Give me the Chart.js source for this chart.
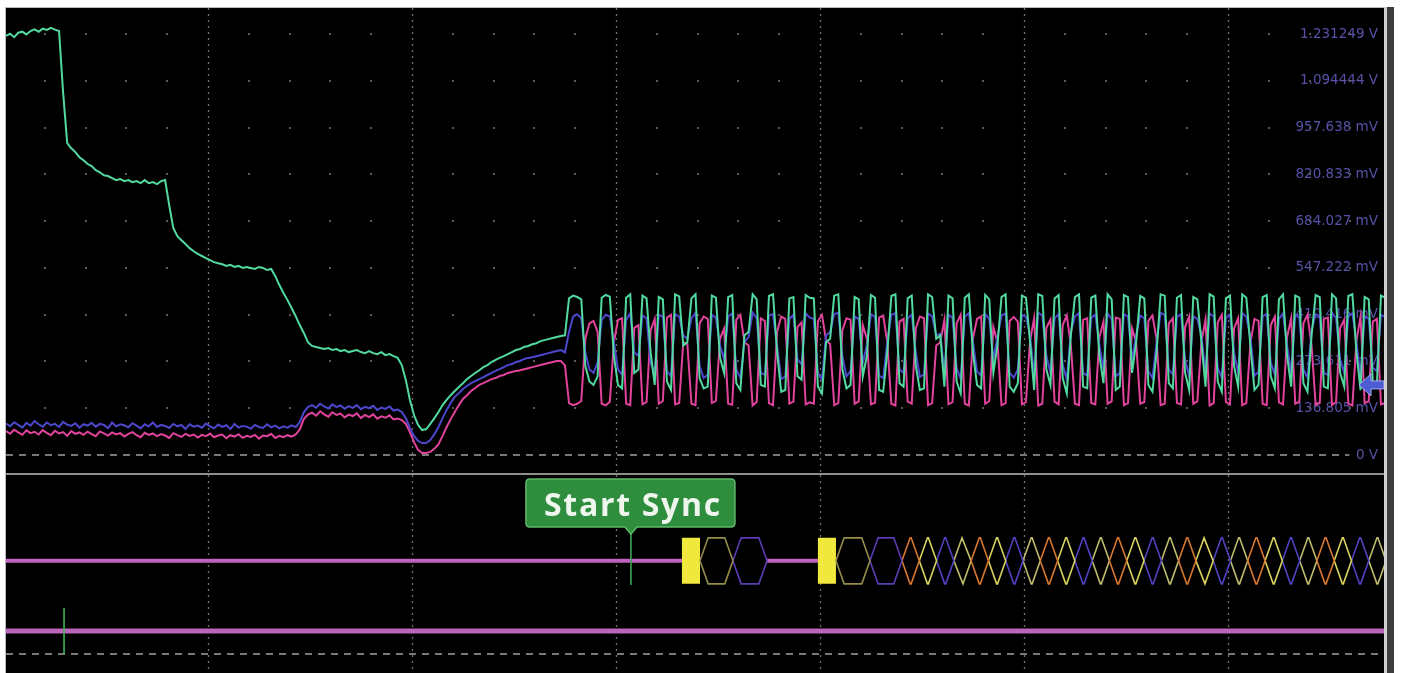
<!DOCTYPE html>
<html>
<head>
<meta charset="utf-8">
<script src="https://cdn.jsdelivr.net/npm/chart.js@4.4.1/dist/chart.umd.min.js"></script>
<style>
  html, body { margin: 0; padding: 0; background: #ffffff; }
  body { width: 1402px; height: 673px; position: relative; overflow: hidden; }
  .abs { position: absolute; }
  #frameTop { left: 5px; top: 7px; width: 1380px; height: 1px; background: #b9b9b9; }
  #frameLeft { left: 5px; top: 7px; width: 1px; height: 666px; background: #b9b9b9; }
  #screen { left: 6px; top: 8px; width: 1378px; height: 665px; background: #000; }
  #sep { left: 6px; top: 473px; width: 1378px; height: 2px; background: #8f8f8f; }
  #railLight { left: 1384px; top: 7px; width: 3px; height: 666px; background: #cfcfcf; }
  #railDark { left: 1387px; top: 7px; width: 7px; height: 666px; background: #3e3e3e; }
  #analogWrap { left: 6px; top: 8px; width: 1378px; height: 465px; }
  #busWrap { left: 6px; top: 475px; width: 1378px; height: 198px; }
  canvas { display: block; }
</style>
</head>
<body>
<div class="abs" id="screen"></div>
<div class="abs" id="frameTop"></div>
<div class="abs" id="frameLeft"></div>
<div class="abs" id="railLight"></div>
<div class="abs" id="railDark"></div>
<div class="abs" id="analogWrap"><canvas id="analog" width="1378" height="465"></canvas></div>
<div class="abs" id="sep"></div>
<div class="abs" id="busWrap"><canvas id="bus" width="1378" height="198"></canvas></div>

<script>
// ---- acquisition timing (microseconds) ----
const sampleStart = 0.2;
const sampleStep = 0.4;
const viewMin = 0.2;
const viewMax = 135.3;

// horizontal divisions (µs): major every 20, minor every 4
const majorTimes = [20, 40, 60, 80, 100, 120];
const minorTimes = [4, 8, 12, 16, 24, 28, 32, 36, 44, 48, 52, 56, 64, 68, 72, 76, 84, 88, 92, 96,
                    104, 108, 112, 116, 124, 128, 132];

// ---- analog channels (mV) ----
const ch1 = [
  1226, 1232, 1222, 1235, 1238, 1230, 1240, 1245, 1238, 1247,
  1243, 1249, 1244, 1240, 1060, 912, 897, 886, 871, 862,
  851, 845, 833, 827, 818, 816, 810, 804, 807, 801,
  804, 798, 801, 795, 804, 795, 798, 792, 801, 804,
  731, 664, 640, 628, 617, 605, 596, 588, 582, 576,
  570, 564, 561, 558, 553, 556, 550, 553, 547, 550,
  547, 544, 550, 547, 541, 544, 523, 497, 474, 453,
  430, 406, 380, 357, 330, 319, 316, 313, 310, 313,
  307, 310, 304, 307, 301, 304, 307, 301, 298, 304,
  298, 295, 301, 292, 295, 289, 284, 263, 219, 161,
  117, 88, 73, 76, 91, 108, 126, 146, 161, 175,
  187, 199, 210, 222, 231, 240, 248, 257, 263, 272,
  278, 284, 289, 295, 301, 307, 310, 316, 319, 324,
  327, 333, 336, 339, 342, 345, 348,
  350, 458, 466, 462, 455, 260, 215, 205, 230, 460,
  468, 463, 290, 205, 195, 460, 470, 240, 250, 466,
  458, 300, 205, 462, 455, 215, 190, 470, 464, 320,
  330, 458, 470, 225, 195, 200, 466, 460, 285, 240,
  462, 468, 210, 190, 350, 360, 470, 455, 205, 200,
  465, 470, 300, 185, 190, 458, 462, 230, 220, 468,
  460, 458, 200, 180, 330, 340, 466, 470, 250, 195,
  205, 462, 455, 230, 290, 468, 460, 190, 185, 300,
  465, 470, 210, 200, 458, 466, 260, 190, 195, 470,
  462, 340, 350, 200, 466, 458, 215, 180, 460, 470,
  300, 205, 195, 468, 455, 240, 320, 462, 470, 200,
  185, 210, 466, 460, 330, 190, 470, 465, 250, 205,
  458, 468, 225, 180, 350, 462, 470, 200, 195, 460,
  466, 290, 210, 470, 455, 190, 200, 468, 462, 240,
  330, 465, 458, 205, 185, 300, 470, 466, 210, 195,
  460, 468, 240, 190, 462, 455, 330, 200, 470, 463,
  215, 185, 458, 466, 260, 200, 470, 460, 320, 190,
  205, 462, 468, 230, 195, 455, 470, 290, 200, 466,
  460, 210, 185, 350, 468, 462, 200, 195, 470, 458,
  240, 200, 465, 470, 300, 190, 462, 455, 215, 205,
  466, 460
];

const ch2 = [
  92, 84, 96, 88, 80, 94, 86, 99, 90, 83,
  95, 87, 91, 82, 97, 89, 85, 93, 80, 90,
  86, 94, 83, 91, 88, 79, 95, 84, 90, 87,
  81, 93, 86, 78, 90, 84, 95, 82, 88, 85,
  79, 91, 84, 88, 76, 90, 83, 86, 80, 92,
  84, 78, 89, 82, 87, 76, 91, 80, 85, 83,
  77, 88, 82, 79, 90, 81, 86, 78, 84, 80,
  87, 82, 96, 125, 140, 146, 138, 150, 142, 136,
  148, 140, 145, 135, 143, 138, 146, 134, 141, 137,
  144, 132, 139, 135, 142, 130, 133, 126, 108, 79,
  56, 41, 35, 35, 44, 61, 82, 108, 132, 152,
  170, 181, 193, 202, 210, 216, 222, 228, 234, 240,
  246, 251, 257, 263, 266, 272, 275, 281, 284, 286,
  289, 292, 295, 298, 301, 304, 307,
  300, 360, 405, 412, 400, 300, 250, 240, 270, 395,
  410, 405, 330, 250, 235, 395, 415, 300, 290, 408,
  400, 270, 240, 410, 405, 245, 230, 412, 405, 350,
  340, 400, 415, 260, 225, 235, 410, 402, 320, 280,
  405, 414, 250, 225, 330, 345, 416, 400, 240, 235,
  408, 412, 320, 222, 230, 398, 410, 280, 265, 415,
  402, 398, 240, 220, 350, 360, 412, 416, 290, 230,
  245, 405, 398, 270, 320, 412, 404, 232, 225, 330,
  410, 415, 250, 240, 400, 410, 300, 228, 236, 414,
  405, 350, 355, 240, 410, 402, 255, 222, 404, 415,
  330, 245, 232, 412, 398, 280, 345, 408, 414, 240,
  226, 250, 410, 404, 350, 232, 416, 408, 290, 240,
  400, 412, 265, 220, 360, 405, 415, 240, 232, 402,
  410, 320, 250, 414, 398, 230, 240, 412, 405, 280,
  350, 408, 400, 245, 225, 330, 416, 410, 250, 236,
  404, 412, 280, 230, 406, 398, 350, 240, 414, 406,
  255, 226, 400, 410, 300, 240, 415, 404, 345, 232,
  244, 406, 412, 270, 235, 398, 414, 320, 240, 410,
  402, 250, 226, 365, 412, 405, 240, 234, 416, 400,
  280, 240, 408, 414, 330, 230, 406, 398, 255, 245,
  410, 404
];

const ch3 = [
  70, 62, 74, 66, 59, 72, 64, 68, 60, 73,
  65, 58, 71, 63, 67, 56, 70, 62, 66, 59,
  68, 61, 55, 69, 63, 57, 66, 60, 64, 54,
  62, 67, 58, 52, 65, 59, 63, 55, 61, 57,
  50, 64, 58, 53, 62, 56, 60, 51, 59, 55,
  63, 52, 57, 60, 49, 58, 54, 61, 50, 56,
  53, 59, 48, 57, 55, 62, 50, 56, 52, 58,
  54, 60, 75, 105, 118, 124, 115, 128, 119, 112,
  125, 117, 121, 110, 118, 114, 122, 108, 117, 111,
  119, 106, 113, 109, 116, 104, 107, 102, 91, 67,
  38, 15, 6, 6, 9, 18, 32, 56, 82, 105,
  126, 146, 164, 175, 187, 196, 205, 210, 216, 222,
  225, 231, 234, 240, 243, 246, 248, 251, 254, 257,
  260, 263, 266, 269, 272, 275, 275,
  262, 152, 146, 150, 158, 340, 385, 392, 360, 150,
  145, 156, 330, 395, 400, 150, 146, 372, 380, 148,
  155, 365, 398, 150, 158, 402, 410, 148, 152, 330,
  325, 150, 146, 385, 405, 398, 152, 158, 340, 370,
  150, 147, 396, 410, 330, 320, 145, 155, 400, 392,
  152, 146, 360, 405, 398, 150, 156, 375, 388, 148,
  154, 150, 392, 410, 335, 325, 146, 152, 365, 400,
  396, 150, 157, 380, 340, 148, 153, 402, 408, 330,
  150, 145, 390, 398, 156, 150, 370, 405, 400, 146,
  152, 320, 330, 395, 148, 155, 385, 410, 150, 145,
  340, 398, 405, 150, 158, 375, 330, 146, 152, 392,
  404, 390, 148, 155, 335, 400, 145, 150, 372, 396,
  156, 148, 380, 408, 320, 150, 146, 395, 400, 152,
  148, 345, 390, 150, 157, 402, 398, 146, 152, 370,
  330, 150, 155, 392, 408, 340, 146, 150, 385, 400,
  152, 148, 375, 405, 150, 157, 330, 396, 145, 152,
  388, 410, 155, 148, 370, 400, 146, 152, 325, 398,
  392, 150, 146, 380, 405, 154, 148, 345, 400, 150,
  156, 385, 410, 320, 147, 152, 398, 402, 146, 155,
  372, 396, 150, 145, 335, 405, 152, 157, 390, 398,
  148, 152
];

// vertical scale: one division = 136.805 mV
const voltTicks = [0, 136.805, 273.611, 410.416, 547.222, 684.027, 820.833, 957.638, 1094.444, 1231.249];
const voltLabels = ['0 V', '136.805 mV', '273.611 mV', '410.416 mV', '547.222 mV', '684.027 mV',
                    '820.833 mV', '957.638 mV', '1.094444 V', '1.231249 V'];
const triggerLevel = 205;      // mV, reference arrow on the right edge
const zeroLineEnd = 131.9;     // µs, the 0 V dashed line stops before its label

// ---- decoded bus (µs) ----
const idleStart = [0.2, 74.81];
const idleEnd = [66.47, 79.80];
const syncStart = [66.47, 79.80];
const syncEnd = [68.24, 81.57];
const symStart = [68.24, 71.47, 81.57, 84.90,
  88.04, 89.74, 91.43, 93.13, 94.82, 96.52, 98.21, 99.91, 101.60, 103.30,
  104.99, 106.69, 108.38, 110.08, 111.77, 113.47, 115.16, 116.86, 118.55, 120.25,
  121.94, 123.64, 125.33, 127.03, 128.72, 130.42, 132.11, 133.81];
const symEnd = [71.47, 74.81, 84.90, 88.04,
  89.74, 91.43, 93.13, 94.82, 96.52, 98.21, 99.91, 101.60, 103.30, 104.99,
  106.69, 108.38, 110.08, 111.77, 113.47, 115.16, 116.86, 118.55, 120.25, 121.94,
  123.64, 125.33, 127.03, 128.72, 130.42, 132.11, 133.81, 135.50];
const symKind = ['hdr', 'cmd', 'hdr', 'cmd',
  'd0', 'd1', 'd2', 'd3', 'd0', 'd1', 'd2', 'd3', 'd0', 'd1',
  'd2', 'd3', 'd0', 'd1', 'd2', 'd3', 'd0', 'd1', 'd2', 'd3',
  'd0', 'd1', 'd2', 'd3', 'd0', 'd1', 'd2', 'd3'];
const syncMarkerTime = 61.47;
const syncMarkerText = 'Start Sync';
const lineMarkerTime = 5.89;

// logic levels of the lower pane
const busCenter = 4.05;
const busHalf = 1;
const lineHigh = 1;
const lineLow = 0;

// ---- styles ----
const kindColor = {
  hdr: '#978d4a', cmd: '#5b3db4',
  d0: '#d7772f', d1: '#d9d25c', d2: '#5142c2', d3: '#bdbb6c'
};
const hexSlant = 0.8;

const toXY = vals => vals.map((v, i) => ({ x: +(sampleStart + i * sampleStep).toFixed(2), y: v }));

function scopeGrid(withDots) {
  return {
    id: 'scopeGrid',
    beforeDatasetsDraw(chart) {
      const { ctx, chartArea: a, scales: { x, y } } = chart;
      ctx.save();
      if (withDots) {
        ctx.fillStyle = '#5a5a5a';
        for (const t of minorTimes) {
          const px = Math.round(x.getPixelForValue(t));
          for (const v of voltTicks) {
            if (v === 0) continue;
            const py = Math.round(y.getPixelForValue(v));
            ctx.fillRect(px - 1, py - 1, 2, 2);
          }
        }
      }
      ctx.strokeStyle = 'rgba(150,150,150,0.75)';
      ctx.lineWidth = 1.3;
      ctx.setLineDash([2, 4]);
      for (const t of majorTimes) {
        const px = Math.round(x.getPixelForValue(t)) + 0.5;
        ctx.beginPath();
        ctx.moveTo(px, a.top);
        ctx.lineTo(px, a.bottom);
        ctx.stroke();
      }
      ctx.restore();
    }
  };
}

const triggerArrow = {
  id: 'triggerArrow',
  afterDatasetsDraw(chart) {
    const { ctx, chartArea: a, scales: { y } } = chart;
    const py = y.getPixelForValue(triggerLevel);
    const r = a.right;
    ctx.save();
    ctx.beginPath();
    ctx.moveTo(r - 25, py);
    ctx.lineTo(r - 13, py - 11);
    ctx.lineTo(r - 13, py - 4);
    ctx.lineTo(r, py - 4);
    ctx.lineTo(r, py + 4);
    ctx.lineTo(r - 13, py + 4);
    ctx.lineTo(r - 13, py + 11);
    ctx.closePath();
    ctx.fillStyle = '#4e5cd4';
    ctx.fill();
    ctx.strokeStyle = '#a5adf2';
    ctx.lineWidth = 1;
    ctx.stroke();
    ctx.restore();
  }
};

const syncCallout = {
  id: 'syncCallout',
  afterDatasetsDraw(chart) {
    const { ctx, chartArea: a, scales: { x } } = chart;
    const px = x.getPixelForValue(syncMarkerTime);
    const left = px - 105, right = px + 104, top = a.top + 4, bottom = a.top + 52;
    const r = 4;
    ctx.save();
    ctx.beginPath();
    ctx.moveTo(left + r, top);
    ctx.lineTo(right - r, top);
    ctx.quadraticCurveTo(right, top, right, top + r);
    ctx.lineTo(right, bottom - r);
    ctx.quadraticCurveTo(right, bottom, right - r, bottom);
    ctx.lineTo(px + 6, bottom);
    ctx.lineTo(px, bottom + 7);
    ctx.lineTo(px - 6, bottom);
    ctx.lineTo(left + r, bottom);
    ctx.quadraticCurveTo(left, bottom, left, bottom - r);
    ctx.lineTo(left, top + r);
    ctx.quadraticCurveTo(left, top, left + r, top);
    ctx.closePath();
    ctx.fillStyle = '#2f8d3e';
    ctx.fill();
    ctx.strokeStyle = '#5fb86a';
    ctx.lineWidth = 1.5;
    ctx.stroke();

    ctx.font = '700 32px "Open Sans"';
    ctx.fillStyle = '#eef6ee';
    ctx.textAlign = 'center';
    ctx.textBaseline = 'alphabetic';
    const w = ctx.measureText(syncMarkerText).width;
    if ('letterSpacing' in ctx) ctx.letterSpacing = ((178 - w) / syncMarkerText.length).toFixed(2) + 'px';
    ctx.fillText(syncMarkerText, px + 2, top + 37);
    ctx.restore();
  }
};

const common = {
  responsive: false,
  animation: false,
  devicePixelRatio: 1,
  events: [],
  layout: { padding: 0 },
  elements: { point: { radius: 0 }, line: { tension: 0, borderCapStyle: 'butt' } },
  plugins: { legend: { display: false }, tooltip: { enabled: false } }
};

// ---- upper pane: analog traces ----
new Chart(document.getElementById('analog'), {
  type: 'line',
  data: {
    datasets: [
      { label: 'CH1', data: toXY(ch1), borderColor: '#52d99f', borderWidth: 2 },
      { label: 'CH2', data: toXY(ch2), borderColor: '#4c47cd', borderWidth: 2 },
      { label: 'CH3', data: toXY(ch3), borderColor: '#e2439d', borderWidth: 2 },
      { label: '0 V', data: [{ x: viewMin, y: 0 }, { x: zeroLineEnd, y: 0 }],
        borderColor: '#a0a0a0', borderWidth: 1.5, borderDash: [7, 6] }
    ]
  },
  options: {
    ...common,
    scales: {
      x: { type: 'linear', min: viewMin, max: viewMax, display: false },
      y: {
        type: 'linear', position: 'right', min: -52.6, max: 1307.3,
        afterBuildTicks: s => { s.ticks = voltTicks.map(v => ({ value: v })); },
        afterFit: s => { s.width = 0; s.paddingTop = 0; s.paddingBottom = 0; },
        grid: { display: false },
        border: { display: false },
        ticks: {
          mirror: true, padding: -6, color: '#5752a8',
          font: { family: 'DejaVu Sans', size: 13.5 },
          callback: (v, i) => voltLabels[i]
        }
      }
    }
  },
  plugins: [scopeGrid(true), triggerArrow]
});

// ---- lower pane: decoded bus and logic line ----
function segments(starts, ends, level) {
  const pts = [];
  starts.forEach((s, i) => {
    pts.push({ x: s, y: level }, { x: ends[i], y: level }, { x: ends[i], y: null });
  });
  return pts;
}
function busOutline(kind) {
  const pts = [];
  symKind.forEach((k, i) => {
    if (k !== kind) return;
    const s = symStart[i], e = symEnd[i];
    const d = Math.min(hexSlant, (e - s) / 2);
    const hi = busCenter + busHalf, lo = busCenter - busHalf;
    pts.push({ x: s, y: busCenter }, { x: s + d, y: hi }, { x: e - d, y: hi }, { x: e, y: busCenter },
             { x: e - d, y: lo }, { x: s + d, y: lo }, { x: s, y: busCenter }, { x: e, y: null });
  });
  return pts;
}

const busSets = [
  { label: 'sync marker', data: [{ x: syncMarkerTime, y: 3.0 }, { x: syncMarkerTime, y: 5.26 }],
    borderColor: '#3aa552', borderWidth: 1.6 },
  { label: 'line marker', data: [{ x: lineMarkerTime, y: lineLow }, { x: lineMarkerTime, y: 2.0 }],
    borderColor: '#3fb457', borderWidth: 1.6 }
];
Object.keys(kindColor).forEach(k => {
  busSets.push({ label: k, data: busOutline(k), borderColor: kindColor[k], borderWidth: 1.6, spanGaps: false });
});
busSets.push(
  { label: 'sync', data: segments(syncStart, syncEnd, busCenter), borderColor: '#f1e83e',
    borderWidth: 46, spanGaps: false },
  { label: 'idle', data: segments(idleStart, idleEnd, busCenter), borderColor: '#c062c0',
    borderWidth: 4, spanGaps: false },
  { label: 'D1', data: [{ x: viewMin, y: lineHigh }, { x: viewMax, y: lineHigh }],
    borderColor: '#b965b9', borderWidth: 5 },
  { label: 'D1 ground', data: [{ x: viewMin, y: lineLow }, { x: viewMax, y: lineLow }],
    borderColor: '#a0a0a0', borderWidth: 1.5, borderDash: [7, 6] }
);

new Chart(document.getElementById('bus'), {
  type: 'line',
  data: { datasets: busSets },
  options: {
    ...common,
    scales: {
      x: { type: 'linear', min: viewMin, max: viewMax, display: false },
      y: { type: 'linear', min: -0.826, max: 7.783, display: false }
    }
  },
  plugins: [scopeGrid(false), syncCallout]
});
</script>
</body>
</html>
